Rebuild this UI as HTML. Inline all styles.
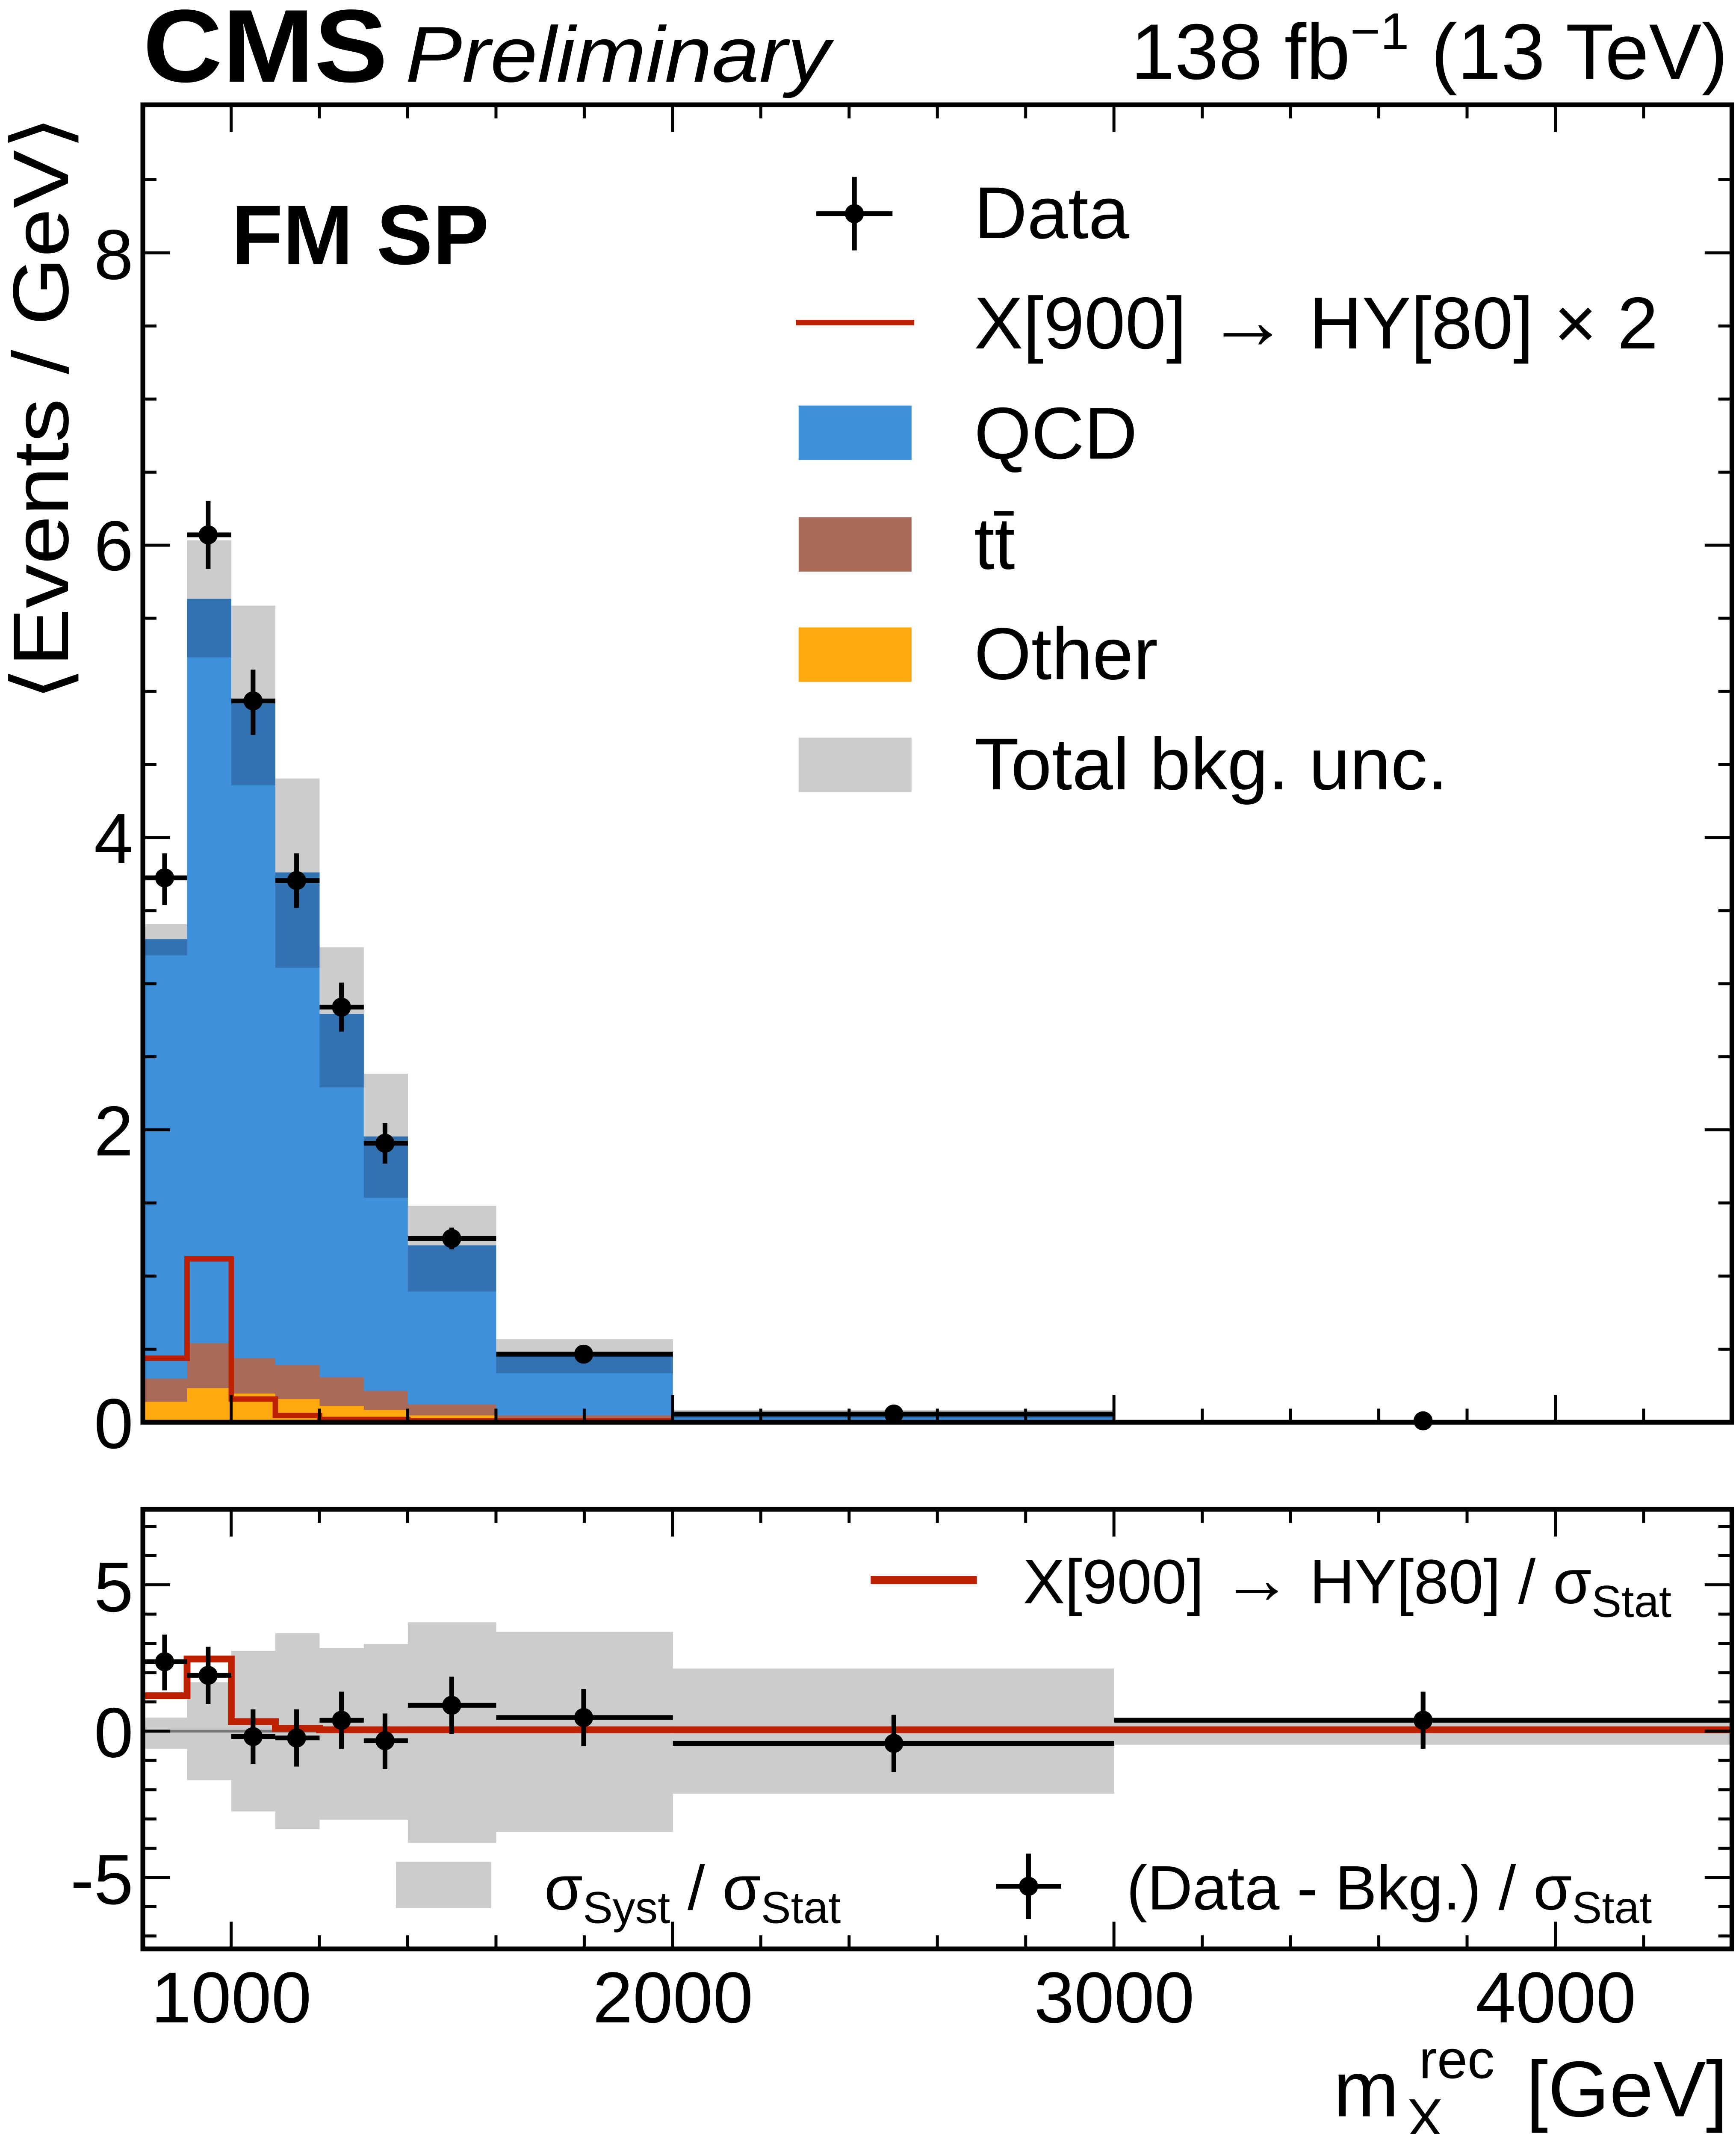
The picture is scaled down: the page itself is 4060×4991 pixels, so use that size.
<!DOCTYPE html>
<html><head><meta charset="utf-8"><style>
html,body{margin:0;padding:0;background:#fff;}
svg{display:block;}
text{font-family:"Liberation Sans",Arial,sans-serif;fill:#000;}
</style></head><body>
<svg id="s" width="4060" height="4991" viewBox="0 0 1276 1568" preserveAspectRatio="none" xmlns="http://www.w3.org/2000/svg">
<rect width="1276" height="1568" fill="#fff"/>
<g id="main">
<path fill="#3f90da" d="M105,1045 V690 H137.5 V440 H170 V515 H202.4 V641 H234.9 V745 H267.4 V835 H299.8 V915 H364.7 V995 H494.6 V1039 H819 V1044 H1273 V1045 Z"/>
<g fill="#3272b0">
<rect x="105" y="690" width="32.5" height="12"/>
<rect x="137.5" y="440" width="32.5" height="43"/>
<rect x="170" y="515" width="32.4" height="62"/>
<rect x="202.4" y="641" width="32.5" height="70"/>
<rect x="234.9" y="745" width="32.5" height="54"/>
<rect x="267.4" y="835" width="32.4" height="45"/>
<rect x="299.8" y="915" width="64.9" height="34"/>
<rect x="364.7" y="995" width="129.9" height="14"/>
<rect x="494.6" y="1039" width="324.4" height="3"/>
</g>
<g fill="#cccccc">
<rect x="105" y="679" width="32.5" height="11"/>
<rect x="137.5" y="397" width="32.5" height="43"/>
<rect x="170" y="445" width="32.4" height="70"/>
<rect x="202.4" y="572" width="32.5" height="69"/>
<rect x="234.9" y="696" width="32.5" height="49"/>
<rect x="267.4" y="789" width="32.4" height="46"/>
<rect x="299.8" y="886" width="64.9" height="29"/>
<rect x="364.7" y="984" width="129.9" height="11"/>
<rect x="494.6" y="1036" width="324.4" height="3"/>
</g>
<path fill="#a96b59" d="M105,1045 V1013 H137.5 V987 H170 V998 H202.4 V1003 H234.9 V1012 H267.4 V1022 H299.8 V1032 H364.7 V1040 H494.6 V1045 Z"/>
<path fill="#ffa90e" d="M105,1045 V1030 H137.5 V1020 H170 V1024 H202.4 V1028 H234.9 V1033 H267.4 V1036 H299.8 V1040 H364.7 V1043 H494.6 V1045 Z"/>
<path fill="none" stroke="#bd1f01" stroke-width="4" d="M105,998 H137.5 V925 H170 V1028 H202.4 V1040 H234.9 V1043 H299.8 V1044 H494.6"/>
<g stroke="#000" stroke-width="3.5" fill="none">
<path d="M105,645 H137.5 M121,627 V665"/>
<path d="M137.5,393 H170 M153,368 V418"/>
<path d="M170,515 H202.4 M186,492 V540"/>
<path d="M202.4,647 H234.9 M218,627 V667"/>
<path d="M234.9,740 H267.4 M251,722 V758"/>
<path d="M267.4,840 H299.8 M283,825 V855"/>
<path d="M299.8,910 H364.7 M332,902 V918"/>
<path d="M364.7,995 H494.6"/>
<path d="M494.6,1039 H819"/>
</g>
<g fill="#000">
<circle cx="121" cy="645" r="7"/><circle cx="153" cy="393" r="7"/><circle cx="186" cy="515" r="7"/>
<circle cx="218" cy="647" r="7"/><circle cx="251" cy="740" r="7"/><circle cx="283" cy="840" r="7"/>
<circle cx="332" cy="910" r="7"/><circle cx="429" cy="995" r="7"/><circle cx="657" cy="1039" r="7"/><circle cx="1046" cy="1044" r="7"/>
</g>
<rect x="105" y="77" width="1168" height="968" fill="none" stroke="#000" stroke-width="3.5"/>
<path id="tm" stroke="#000" stroke-width="2.2" fill="none" d=""/>
</g>
<g>
<g fill="#cccccc">
<rect x="105" y="1262" width="32.5" height="23"/>
<rect x="137.5" y="1236" width="32.5" height="72"/>
<rect x="170" y="1213" width="32.4" height="118"/>
<rect x="202.4" y="1200" width="32.5" height="144"/>
<rect x="234.9" y="1211" width="32.5" height="126"/>
<rect x="267.4" y="1208" width="32.4" height="129"/>
<rect x="299.8" y="1192" width="64.9" height="162"/>
<rect x="364.7" y="1199" width="129.9" height="147"/>
<rect x="494.6" y="1226" width="324.4" height="92"/>
<rect x="819" y="1262" width="454" height="20"/>
</g>
<line x1="105" y1="1272" x2="1273" y2="1272" stroke="#777" stroke-width="2"/>
<path fill="none" stroke="#bd1f01" stroke-width="5" d="M105,1246 H137.5 V1219 H170 V1265 H202.4 V1270 H234.9 V1271 H1273"/>
<g stroke="#000" stroke-width="3.5" fill="none">
<path d="M105,1221 H137.5 M121,1201 V1242"/>
<path d="M137.5,1231 H170 M153,1210 V1252"/>
<path d="M170,1276 H202.4 M186,1256 V1296"/>
<path d="M202.4,1277 H234.9 M218,1256 V1298"/>
<path d="M234.9,1264 H267.4 M251,1243 V1285"/>
<path d="M267.4,1279 H299.8 M283,1259 V1300"/>
<path d="M299.8,1253 H364.7 M332,1232 V1274"/>
<path d="M364.7,1262 H494.6 M429,1241 V1283"/>
<path d="M494.6,1281 H819 M657,1260 V1302"/>
<path d="M819,1264 H1273 M1046,1243 V1285"/>
</g>
<g fill="#000">
<circle cx="121" cy="1221" r="7"/><circle cx="153" cy="1231" r="7"/><circle cx="186" cy="1276" r="7"/>
<circle cx="218" cy="1277" r="7"/><circle cx="251" cy="1264" r="7"/><circle cx="283" cy="1279" r="7"/>
<circle cx="332" cy="1253" r="7"/><circle cx="429" cy="1262" r="7"/><circle cx="657" cy="1281" r="7"/><circle cx="1046" cy="1264" r="7"/>
</g>
<rect x="105" y="1109" width="1168" height="323" fill="none" stroke="#000" stroke-width="3.5"/>
<path id="tr" stroke="#000" stroke-width="2.2" fill="none" d=""/>
<line x1="640" y1="1161" x2="718" y2="1161" stroke="#bd1f01" stroke-width="6"/>
<text x="752" y="1178" font-size="46">X[900] <tspan font-size="52">→</tspan> HY[80] / σ<tspan font-size="33" dy="10">Stat</tspan></text>
<rect x="291" y="1368" width="70" height="34" fill="#cccccc"/>
<text x="400" y="1403" font-size="46">σ<tspan font-size="33" dy="10">Syst</tspan><tspan dy="-10"> / σ</tspan><tspan font-size="33" dy="10">Stat</tspan></text>
<path d="M732,1386 H780 M756,1362 V1410" stroke="#000" stroke-width="3.5"/>
<circle cx="756" cy="1386" r="7"/>
<text x="828" y="1403" font-size="46">(Data - Bkg.) / σ<tspan font-size="33" dy="10">Stat</tspan></text>
</g>
<g font-size="52" text-anchor="end">
<text x="98" y="1064">0</text><text x="98" y="849">2</text><text x="98" y="634">4</text><text x="98" y="419">6</text><text x="98" y="205">8</text>
<text x="98" y="1184">5</text><text x="98" y="1291">0</text><text x="98" y="1399">-5</text>
</g>
<g font-size="53" text-anchor="middle">
<text x="170" y="1486">1000</text><text x="494.6" y="1486">2000</text><text x="819" y="1486">3000</text><text x="1143.6" y="1486">4000</text>
</g>
<text x="980" y="1555" font-size="58">m</text>
<text x="1043" y="1527" font-size="40">rec</text>
<text x="1034" y="1570" font-size="40">X</text>
<text x="1270" y="1555" font-size="58" text-anchor="end">[GeV]</text>
<text transform="translate(50,300) rotate(-90)" font-size="58" text-anchor="middle" textLength="430" lengthAdjust="spacingAndGlyphs">⟨Events / GeV⟩</text>
<text x="105" y="60" font-size="76" font-weight="bold" textLength="180" lengthAdjust="spacingAndGlyphs">CMS</text>
<text x="298" y="60" font-size="58" font-style="italic" textLength="312" lengthAdjust="spacingAndGlyphs">Preliminary</text>
<text x="1270" y="58" font-size="58" text-anchor="end">138 fb<tspan font-size="38" dy="-22">−1</tspan><tspan dy="22"> (13 TeV)</tspan></text>
<text x="170" y="194" font-size="62" font-weight="bold">FM SP</text>
<path d="M600,157 H656 M628,130 V184" stroke="#000" stroke-width="3.5"/>
<circle cx="628" cy="157" r="7"/>
<g font-size="54">
<text x="716" y="175">Data</text>
<text x="716" y="256">X[900] <tspan font-size="60">→</tspan> HY[80] × 2</text>
<text x="716" y="337">QCD</text>
<text x="716" y="418">tt̄</text>
<text x="716" y="499">Other</text>
<text x="716" y="580">Total bkg. unc.</text>
</g>
<line x1="585" y1="237" x2="672" y2="237" stroke="#bd1f01" stroke-width="4"/>
<rect x="587" y="298" width="83" height="40" fill="#3f90da"/>
<rect x="587" y="380" width="83" height="40" fill="#a96b59"/>
<rect x="587" y="461" width="83" height="40" fill="#ffa90e"/>
<rect x="587" y="542" width="83" height="40" fill="#cccccc"/>
</svg>
<script>
(function(){
function X(v){return 105+(v-800)*0.32444;}
var d="";
for(var v=1000;v<4400;v+=200){var x=X(v),maj=(v%1000===0),L=maj?20:10;
 d+="M"+x+",1045 V"+(1045-L)+" M"+x+",77 V"+(77+L)+" ";}
for(var k=1;k<=17;k++){var y=1045-53.7*k,L=(k%4===0)?20:10;
 d+="M105,"+y+" H"+(105+L)+" M1273,"+y+" H"+(1273-L)+" ";}
document.getElementById("tm").setAttribute("d",d);
var r="";
for(var v=1000;v<4400;v+=200){var x=X(v),maj=(v%1000===0),L=maj?20:10;
 r+="M"+x+",1432 V"+(1432-L)+" M"+x+",1109 V"+(1109+L)+" ";}
for(var u=-7;u<=7;u++){var y=1272-21.5*u,L=(u%5===0)?20:10;
 r+="M105,"+y+" H"+(105+L)+" M1273,"+y+" H"+(1273-L)+" ";}
document.getElementById("tr").setAttribute("d",r);
})();
</script>
</body></html>
